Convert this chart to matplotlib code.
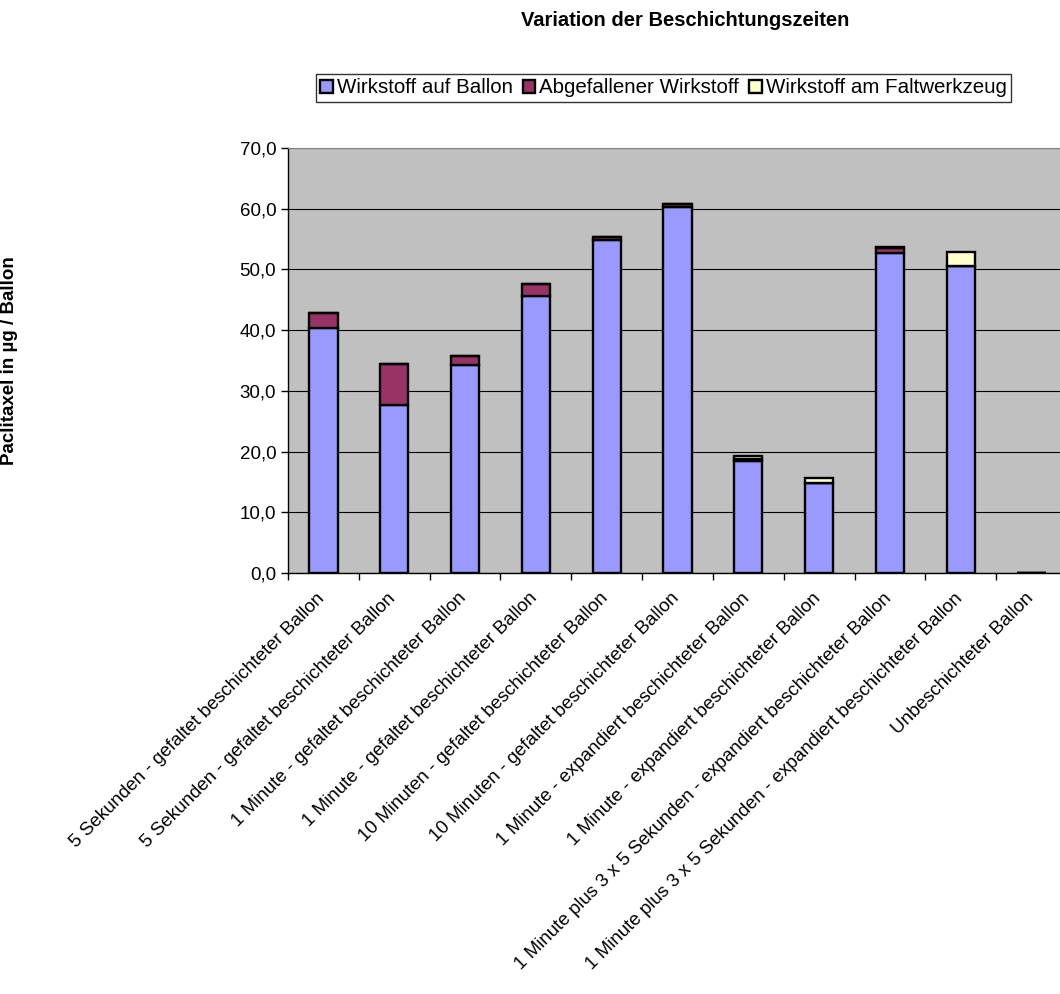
import numpy as np
import matplotlib
matplotlib.use('Agg')
import matplotlib.pyplot as plt
import matplotlib.transforms as mtransforms

plt.rcParams['font.family'] = 'Liberation Sans'

categories = [
    '5 Sekunden - gefaltet beschichteter Ballon',
    '5 Sekunden - gefaltet beschichteter Ballon',
    '1 Minute - gefaltet beschichteter Ballon',
    '1 Minute - gefaltet beschichteter Ballon',
    '10 Minuten - gefaltet beschichteter Ballon',
    '10 Minuten - gefaltet beschichteter Ballon',
    '1 Minute - expandiert beschichteter Ballon',
    '1 Minute - expandiert beschichteter Ballon',
    '1 Minute plus 3 x 5 Sekunden - expandiert beschichteter Ballon',
    '1 Minute plus 3 x 5 Sekunden - expandiert beschichteter Ballon',
    'Unbeschichteter Ballon',
]
auf_ballon = [40.3, 27.7, 34.3, 45.6, 54.9, 60.3, 18.5, 14.8, 52.7, 50.6, 0.0]
abgefallen = [2.5, 6.8, 1.4, 2.0, 0.4, 0.5, 0.3, 0.0, 0.8, 0.0, 0.0]
faltwerkzeug = [0.0, 0.0, 0.0, 0.0, 0.0, 0.0, 0.4, 0.9, 0.2, 2.2, 0.0]

series = ['Wirkstoff auf Ballon', 'Abgefallener Wirkstoff', 'Wirkstoff am Faltwerkzeug']
colors = ['#9999FF', '#993366', '#FFFFCC']
yticks = [0, 10, 20, 30, 40, 50, 60, 70]

fig = plt.figure(figsize=(10.6, 9.94), dpi=100)
ax = fig.add_axes([0.2717, 0.4235, 0.7349, 0.4276])
ax.set_facecolor('#C0C0C0')

x = np.arange(len(categories))
bottom = np.zeros(len(categories))
for vals, name, col in zip([auf_ballon, abgefallen, faltwerkzeug], series, colors):
    vals = np.array(vals)
    ax.bar(x, vals, width=0.4, bottom=bottom, color=col, edgecolor='black',
           linewidth=1.7, label=name, zorder=3)
    bottom += vals

ax.set_xlim(-0.5, len(categories) - 0.5)
ax.set_ylim(0, 70)
ax.set_yticks(yticks)
ax.set_yticklabels(['{:.1f}'.format(v).replace('.', ',') for v in yticks], fontsize=13.5)
ax.yaxis.grid(True, color='black', linewidth=0.8, zorder=1)
ax.set_axisbelow(True)

# boundaries get the tick marks, centres get the rotated labels
ax.set_xticks(np.arange(len(categories) + 1) - 0.5)
ax.set_xticklabels([])
ax.set_xticks(x, minor=True)
ax.set_xticklabels(categories, minor=True, rotation=45, ha='right',
                   rotation_mode='anchor', fontsize=13.5)
ax.tick_params(axis='x', which='minor', length=0, pad=12)
ax.tick_params(axis='both', which='major', length=5, width=1, direction='out')
shift = mtransforms.ScaledTranslation(-5 / 72, 0, fig.dpi_scale_trans)
for lbl in ax.get_xticklabels(minor=True):
    lbl.set_transform(lbl.get_transform() + shift)

for s in ['left', 'bottom']:
    ax.spines[s].set_color('black')
    ax.spines[s].set_linewidth(1)
ax.spines['top'].set_color('#808080')
ax.spines['right'].set_visible(False)

ax.set_ylabel('Paclitaxel in µg / Ballon', fontsize=13.5, fontweight='bold')
ax.yaxis.set_label_coords(-0.347, 0.5)

fig.text(0.646, 0.979, 'Variation der Beschichtungszeiten', ha='center', va='center',
         fontsize=14.5, fontweight='bold')

leg = fig.legend(loc='center', bbox_to_anchor=(0.626, 0.9115), ncol=3,
                 fontsize=14.8, frameon=True, fancybox=False, edgecolor='black',
                 handlelength=0.6, handleheight=0.6, handletextpad=0.2,
                 columnspacing=0.5, borderpad=0.2, borderaxespad=0)
leg.get_frame().set_linewidth(1)

fig.savefig('out.png', dpi=100)
